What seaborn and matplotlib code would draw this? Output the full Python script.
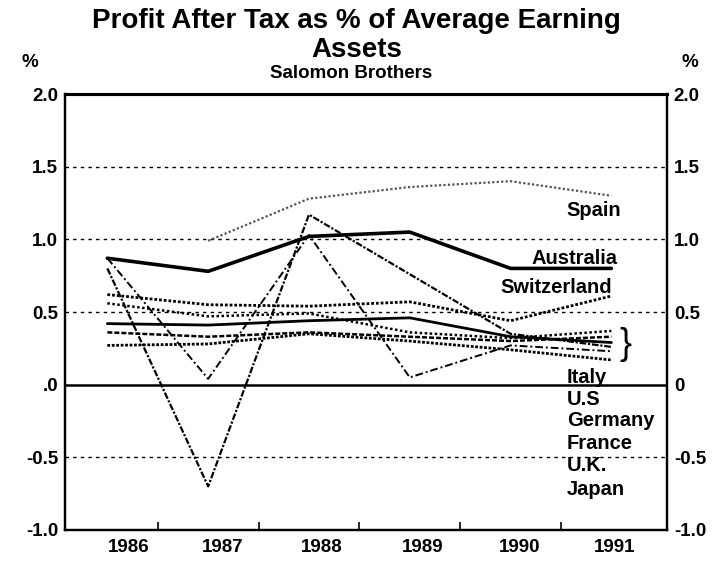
import numpy as np
import pandas as pd
import matplotlib
matplotlib.use("Agg")
import matplotlib.pyplot as plt
import seaborn as sns

# Data (% of average earning assets)
years = [1986, 1987, 1988, 1989, 1990, 1991]
spain = [np.nan, 0.99, 1.28, 1.36, 1.40, 1.30]
australia = [0.87, 0.78, 1.02, 1.05, 0.80, 0.80]
switzerland = [0.62, 0.55, 0.54, 0.57, 0.44, 0.61]
uk = [0.80, -0.70, 1.17, 0.76, 0.35, 0.26]
us = [0.87, 0.04, 1.03, 0.05, 0.27, 0.23]
japan = [0.42, 0.41, 0.44, 0.46, 0.33, 0.29]
france = [0.56, 0.47, 0.49, 0.36, 0.32, 0.37]
germany = [0.36, 0.33, 0.36, 0.33, 0.30, 0.33]
italy = [0.27, 0.28, 0.35, 0.30, 0.24, 0.17]

series = {
    'Spain': spain, 'Australia': australia, 'Switzerland': switzerland,
    'U.K.': uk, 'U.S': us, 'Japan': japan, 'France': france,
    'Germany': germany, 'Italy': italy,
}

# line look for each country
styles = {
    'Spain': dict(color='#555555', lw=1.6, ls=(0, (1, 1))),
    'Australia': dict(color='black', lw=2.6, ls='-'),
    'Switzerland': dict(color='black', lw=2.0, ls=(0, (1, 0.7))),
    'U.K.': dict(color='black', lw=1.6, ls=(0, (3, 0.8, 1, 0.8))),
    'U.S': dict(color='black', lw=1.4, ls=(0, (4, 1.5, 1, 1.5))),
    'Japan': dict(color='black', lw=2.0, ls='-'),
    'France': dict(color='black', lw=1.8, ls=(0, (1, 1))),
    'Germany': dict(color='black', lw=1.8, ls=(0, (2, 0.8))),
    'Italy': dict(color='black', lw=2.0, ls=(0, (1, 0.6))),
}

sns.set_style("white")
plt.rcParams['font.family'] = ['Liberation Sans', 'DejaVu Sans']
plt.rcParams['font.weight'] = 'bold'
plt.rcParams['text.color'] = 'black'
plt.rcParams['xtick.color'] = 'black'
plt.rcParams['ytick.color'] = 'black'

fig = plt.figure(figsize=(7.17, 5.64), dpi=100)
ax = fig.add_axes([0.0907, 0.0603, 0.8393, 0.773])

for name, vals in series.items():
    df = pd.DataFrame({'year': years, 'value': vals}).dropna()
    st = styles[name]
    sns.lineplot(data=df, x='year', y='value', ax=ax, color=st['color'],
                 linewidth=st['lw'], linestyle=st['ls'])

# zero line and grid
ax.axhline(0, color='black', lw=1.8, zorder=1)
for g in [1.5, 1.0, 0.5, -0.5]:
    ax.axhline(g, color='black', lw=1.0, ls=(0, (2.5, 3)), zorder=0)

ax.set_xlim(1985.58, 1991.55)
ax.set_ylim(-1.0, 2.0)

# y tick labels on both sides
yt = [2.0, 1.5, 1.0, 0.5, 0.0, -0.5, -1.0]
left_lab = ['2.0', '1.5', '1.0', '0.5', '.0', '-0.5', '-1.0']
right_lab = ['2.0', '1.5', '1.0', '0.5', '0', '-0.5', '-1.0']
ax.set_yticks(yt)
ax.set_yticklabels(left_lab, fontsize=13.5, fontweight='bold')
ax.tick_params(axis='y', length=0, pad=5)
ax2 = ax.twinx()
ax2.set_ylim(ax.get_ylim())
ax2.set_yticks(yt)
ax2.set_yticklabels(right_lab, fontsize=13.5, fontweight='bold')
ax2.tick_params(axis='y', length=0, pad=5)

# x ticks: marks between years, labels near years
ax.set_xticks([1986.5, 1987.5, 1988.5, 1989.5, 1990.5])
ax.set_xticklabels([])
ax.tick_params(axis='x', direction='in', length=6, width=1.2, color='black', bottom=True)
label_pos = [1986.21, 1987.14, 1988.13, 1989.13, 1990.09, 1991.03]
for p, y in zip(label_pos, years):
    ax.text(p, -1.06, str(y), ha='center', va='top', fontsize=13.5, fontweight='bold')

ax.set_xlabel('')
ax.set_ylabel('')
for a in (ax, ax2):
    for s in a.spines.values():
        s.set_color('black')
        s.set_linewidth(1.6)
    a.spines['top'].set_linewidth(2.2)

# titles
fig.text(0.497, 0.962, 'Profit After Tax as % of Average Earning', ha='center', va='center',
         fontsize=20, fontweight='bold')
fig.text(0.497, 0.911, 'Assets', ha='center', va='center', fontsize=20, fontweight='bold')
fig.text(0.49, 0.870, 'Salomon Brothers', ha='center', va='center', fontsize=13.5, fontweight='bold')
fig.text(0.042, 0.889, '%', ha='center', va='center', fontsize=13.5, fontweight='bold')
fig.text(0.962, 0.889, '%', ha='center', va='center', fontsize=13.5, fontweight='bold')

# country labels
ax.text(1991.1, 1.20, 'Spain', ha='right', va='center', fontsize=14.5, fontweight='bold')
ax.text(1991.06, 0.87, 'Australia', ha='right', va='center', fontsize=14.5, fontweight='bold')
ax.text(1991.01, 0.67, 'Switzerland', ha='right', va='center', fontsize=14.5, fontweight='bold')
ax.text(1991.08, 0.275, '}', ha='left', va='center', fontsize=26, fontweight='light')
group = ['Italy', 'U.S', 'Germany', 'France', 'U.K.', 'Japan']
group_y = [0.05, -0.10, -0.25, -0.405, -0.556, -0.72]
for n, yy in zip(group, group_y):
    ax.text(1990.56, yy, n, ha='left', va='center', fontsize=14.5, fontweight='bold')

fig.savefig('out.png', dpi=100)
